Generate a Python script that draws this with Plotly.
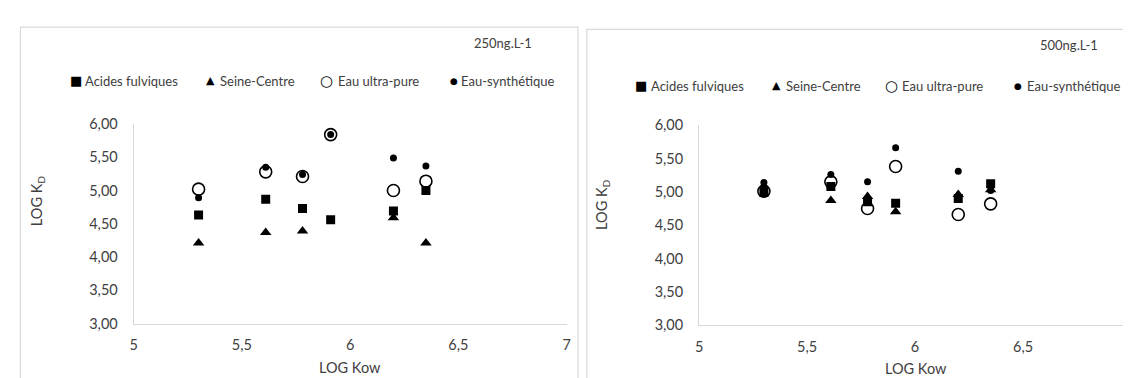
import plotly.graph_objects as go

# LOG Kow of the compounds (same for both panels)
log_kow = [5.30, 5.61, 5.78, 5.91, 6.20, 6.35]

# 250 ng/L
af_250 = [4.63, 4.87, 4.73, 4.56, 4.69, 5.00]
sc_250 = [4.21, 4.37, 4.39, None, 4.59, 4.21]
up_250 = [5.02, 5.28, 5.21, 5.84, 5.00, 5.14]
syn_250 = [4.89, 5.35, 5.24, 5.84, 5.49, 5.37]

# 500 ng/L
af_500 = [4.99, 5.08, 4.85, 4.83, 4.90, 5.12]
sc_500 = [5.09, 4.87, 4.93, 4.70, 4.96, 5.03]
up_500 = [5.01, 5.15, 4.75, 5.38, 4.66, 4.82]
syn_500 = [5.14, 5.26, 5.15, 5.66, 5.31, 5.02]

series_names = ["Acides fulviques", "Seine-Centre", "Eau ultra-pure", "Eau-synthétique"]
panel_titles = ["250ng.L-1", "500ng.L-1"]

W, H = 1131, 378
FONT = "Lato, Carlito, 'Open Sans', sans-serif"
TXT = "#404040"
GRID = "#d9d9d9"


def px(x):
    return x / W


def py(y):
    return 1 - y / H


styles = [
    dict(symbol="square", size=9, color="black"),
    dict(symbol="triangle-up", size=10, color="black"),
    dict(symbol="circle-open", size=12, color="black", line=dict(width=1.6, color="black")),
    dict(symbol="circle", size=7, color="black"),
]

fig = go.Figure()

panels = [
    ("x", "y", [af_250, sc_250, up_250, syn_250]),
    ("x2", "y2", [af_500, sc_500, up_500, syn_500]),
]
for xa, ya, data in panels:
    for name, vals, st in zip(series_names, data, styles):
        fig.add_trace(go.Scatter(x=log_kow, y=vals, mode="markers", name=name,
                                 marker=st, xaxis=xa, yaxis=ya, showlegend=False))

axis_common = dict(showgrid=False, zeroline=False, showline=True, linecolor=GRID, linewidth=1,
                   ticks="", tickfont=dict(family=FONT, size=14.5, color=TXT))

fig.update_layout(
    width=W, height=H,
    margin=dict(l=0, r=0, t=0, b=0),
    paper_bgcolor="white", plot_bgcolor="white",
    separators=", ",
    xaxis=dict(domain=[px(122.5), px(558.6)], range=[5, 7], dtick=0.5, anchor="y",
               ticklabelstandoff=8, **axis_common),
    yaxis=dict(domain=[py(321), py(112)], range=[3, 6], dtick=0.5, tickformat=".2f", anchor="x",
               ticklabelstandoff=12, **axis_common),
    xaxis2=dict(domain=[px(692), px(1127)], range=[5, 7], dtick=0.5, anchor="y2",
                ticklabelstandoff=8, **axis_common),
    yaxis2=dict(domain=[py(322.7), py(113.3)], range=[3, 6], dtick=0.5, tickformat=".2f", anchor="x2",
                ticklabelstandoff=12, **axis_common),
)

# panel frames
fig.add_shape(type="rect", xref="paper", yref="paper", x0=px(8.5), x1=px(570), y0=py(390), y1=py(10.5),
              line=dict(color=GRID, width=1.2), layer="below")
fig.add_shape(type="rect", xref="paper", yref="paper", x0=px(579), x1=px(1140), y0=py(390), y1=py(13),
              line=dict(color=GRID, width=1.2), layer="below")

ann = []
# titles
for (cx, cy), t in zip([(494.5, 27), (1065, 29)], panel_titles):
    ann.append(dict(x=px(cx), y=py(cy), text=t, font=dict(size=13)))
# axis titles
for cx, cy in [(340.5, 367), (910, 368)]:
    ann.append(dict(x=px(cx), y=py(cy), text="LOG Kow", font=dict(size=14.5)))
for cx, cy in [(25, 193), (594, 197)]:
    ann.append(dict(x=px(cx), y=py(cy), text="LOG K<sub>D</sub>", textangle=-90, font=dict(size=14.5)))

# legends drawn as glyph + label
glyphs = [("■", 13), ("▲", 11), ("○", 15), ("●", 9)]
legend_pos = [
    (67, [64, 200, 317, 445], [72, 207, 326, 450]),
    (72, [633, 770, 886, 1013], [641.5, 778, 894, 1020.5]),
]
for ly, sym_x, txt_x in legend_pos:
    for (g, gs), sx, tx, name in zip(glyphs, sym_x, txt_x, series_names):
        ann.append(dict(x=px(sx), y=py(ly), text=g, font=dict(size=gs, color="black",
                        family="DejaVu Sans")))
        ann.append(dict(x=px(tx), y=py(ly), text=name, xanchor="left", font=dict(size=13)))

for a in ann:
    a.setdefault("xanchor", "center")
    a["xref"] = "paper"
    a["yref"] = "paper"
    a["yanchor"] = "middle"
    a["showarrow"] = False
    f = a["font"]
    f.setdefault("family", FONT)
    f.setdefault("color", TXT)
    fig.add_annotation(**a)

fig.write_html("out.html")
